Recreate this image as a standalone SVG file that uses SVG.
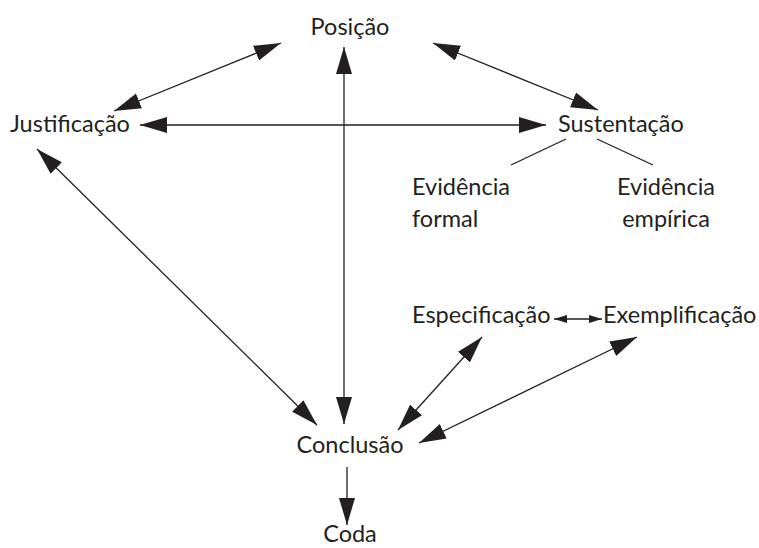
<svg xmlns="http://www.w3.org/2000/svg" width="759" height="548" viewBox="0 0 759 548">
<defs>
<style>
text{font-family:"Lato","Open Sans","Liberation Sans",sans-serif;font-size:23.5px;fill:#231f20}
.c line{stroke:#231f20;stroke-width:1.3;fill:none}
.big{marker-start:url(#hb);marker-end:url(#hb)}
.one{marker-end:url(#hb)}
.sm{marker-start:url(#hs);marker-end:url(#hs)}
</style>
<marker id="hb" markerUnits="userSpaceOnUse" markerWidth="28" markerHeight="18" refX="27" refY="8" orient="auto-start-reverse" viewBox="0 0 28 16">
<path d="M0,0 L27,8 L0,16 z" fill="#231f20"/>
</marker>
<marker id="hs" markerUnits="userSpaceOnUse" markerWidth="14" markerHeight="10" refX="13" refY="4" orient="auto-start-reverse" viewBox="0 0 14 8">
<path d="M0,0 L13,4 L0,8 z" fill="#231f20"/>
</marker>
</defs>
<rect width="759" height="548" fill="#fff"/>
<g class="c" id="connectors">
<line class="big" x1="281" y1="43" x2="114" y2="111"/>
<line class="big" x1="433" y1="43" x2="598" y2="110"/>
<line class="big" x1="140" y1="125" x2="546" y2="125"/>
<line class="big" x1="344" y1="47" x2="344" y2="424"/>
<line class="big" x1="37" y1="149" x2="317" y2="425"/>
<line class="big" x1="482" y1="337" x2="398" y2="430"/>
<line class="big" x1="637" y1="337" x2="419" y2="443"/>
<line class="one" x1="347" y1="467" x2="347" y2="525"/>
<line class="sm" x1="554" y1="319" x2="602" y2="319"/>
<line x1="566" y1="139" x2="511" y2="165"/>
<line x1="597" y1="139" x2="653" y2="165"/>
</g>
<g id="posicao"><text x="350" y="35" text-anchor="middle">Posição</text></g>
<g id="justificacao"><text x="10" y="132">Justificação</text></g>
<g id="sustentacao"><text x="558" y="132">Sustentação</text></g>
<g id="evidencia-formal"><text x="412" y="195">Evidência</text><text x="412" y="227">formal</text></g>
<g id="evidencia-empirica"><text x="666" y="195" text-anchor="middle">Evidência</text><text x="666" y="227" text-anchor="middle">empírica</text></g>
<g id="especificacao"><text x="412" y="323">Especificação</text></g>
<g id="exemplificacao"><text x="603" y="323">Exemplificação</text></g>
<g id="conclusao"><text x="350" y="453" text-anchor="middle">Conclusão</text></g>
<g id="coda"><text x="350" y="542" text-anchor="middle">Coda</text></g>
</svg>
